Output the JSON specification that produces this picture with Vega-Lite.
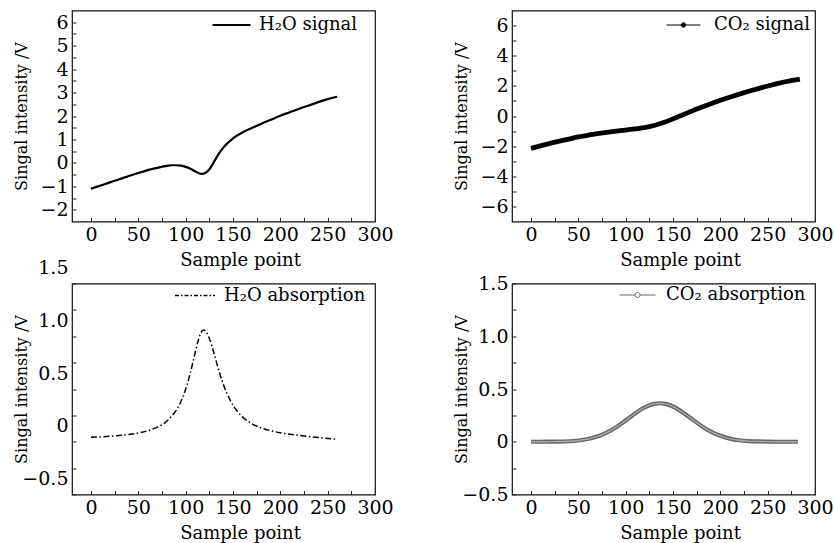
{
  "$schema": "https://vega.github.io/schema/vega-lite/v6.json",
  "background": "white",
  "padding": {"left": 12, "top": 3.5, "right": 0, "bottom": 0},
  "columns": 2,
  "spacing": {"row": 62, "column": 137},
  "bounds": "flush",
  "resolve": {"scale": {"color": "independent"}, "legend": {"color": "independent"}},
  "datasets": {
    "h2o_sig": [
      {"x": 0, "y": -1.10, "series": "H₂O signal"}, {"x": 10, "y": -0.97, "series": "H₂O signal"}, {"x": 20, "y": -0.83, "series": "H₂O signal"}, {"x": 30, "y": -0.70, "series": "H₂O signal"}, {"x": 40, "y": -0.56, "series": "H₂O signal"}, {"x": 50, "y": -0.43, "series": "H₂O signal"}, {"x": 60, "y": -0.31, "series": "H₂O signal"}, {"x": 70, "y": -0.21, "series": "H₂O signal"}, {"x": 80, "y": -0.13, "series": "H₂O signal"}, {"x": 85, "y": -0.10, "series": "H₂O signal"}, {"x": 90, "y": -0.10, "series": "H₂O signal"}, {"x": 95, "y": -0.12, "series": "H₂O signal"}, {"x": 100, "y": -0.17, "series": "H₂O signal"}, {"x": 105, "y": -0.25, "series": "H₂O signal"}, {"x": 110, "y": -0.36, "series": "H₂O signal"}, {"x": 114, "y": -0.44, "series": "H₂O signal"}, {"x": 117, "y": -0.47, "series": "H₂O signal"}, {"x": 120, "y": -0.44, "series": "H₂O signal"}, {"x": 123, "y": -0.36, "series": "H₂O signal"}, {"x": 126, "y": -0.22, "series": "H₂O signal"}, {"x": 130, "y": 0.05, "series": "H₂O signal"}, {"x": 135, "y": 0.38, "series": "H₂O signal"}, {"x": 140, "y": 0.66, "series": "H₂O signal"}, {"x": 145, "y": 0.87, "series": "H₂O signal"}, {"x": 150, "y": 1.05, "series": "H₂O signal"}, {"x": 160, "y": 1.30, "series": "H₂O signal"}, {"x": 170, "y": 1.49, "series": "H₂O signal"}, {"x": 180, "y": 1.67, "series": "H₂O signal"}, {"x": 190, "y": 1.84, "series": "H₂O signal"}, {"x": 200, "y": 2.01, "series": "H₂O signal"}, {"x": 210, "y": 2.16, "series": "H₂O signal"}, {"x": 220, "y": 2.31, "series": "H₂O signal"}, {"x": 230, "y": 2.45, "series": "H₂O signal"}, {"x": 240, "y": 2.59, "series": "H₂O signal"}, {"x": 250, "y": 2.72, "series": "H₂O signal"}, {"x": 260, "y": 2.82, "series": "H₂O signal"}
    ],
    "co2_sig": [
      {"x": 0, "y": -2.15, "series": "CO₂ signal"}, {"x": 10, "y": -1.98, "series": "CO₂ signal"}, {"x": 20, "y": -1.82, "series": "CO₂ signal"}, {"x": 30, "y": -1.67, "series": "CO₂ signal"}, {"x": 40, "y": -1.53, "series": "CO₂ signal"}, {"x": 50, "y": -1.39, "series": "CO₂ signal"}, {"x": 60, "y": -1.28, "series": "CO₂ signal"}, {"x": 70, "y": -1.17, "series": "CO₂ signal"}, {"x": 80, "y": -1.08, "series": "CO₂ signal"}, {"x": 90, "y": -1.00, "series": "CO₂ signal"}, {"x": 100, "y": -0.93, "series": "CO₂ signal"}, {"x": 110, "y": -0.86, "series": "CO₂ signal"}, {"x": 120, "y": -0.77, "series": "CO₂ signal"}, {"x": 130, "y": -0.63, "series": "CO₂ signal"}, {"x": 140, "y": -0.43, "series": "CO₂ signal"}, {"x": 150, "y": -0.19, "series": "CO₂ signal"}, {"x": 160, "y": 0.07, "series": "CO₂ signal"}, {"x": 170, "y": 0.33, "series": "CO₂ signal"}, {"x": 180, "y": 0.58, "series": "CO₂ signal"}, {"x": 190, "y": 0.81, "series": "CO₂ signal"}, {"x": 200, "y": 1.04, "series": "CO₂ signal"}, {"x": 210, "y": 1.25, "series": "CO₂ signal"}, {"x": 220, "y": 1.45, "series": "CO₂ signal"}, {"x": 230, "y": 1.64, "series": "CO₂ signal"}, {"x": 240, "y": 1.82, "series": "CO₂ signal"}, {"x": 250, "y": 1.99, "series": "CO₂ signal"}, {"x": 260, "y": 2.15, "series": "CO₂ signal"}, {"x": 270, "y": 2.29, "series": "CO₂ signal"}, {"x": 284, "y": 2.45, "series": "CO₂ signal"}
    ],
    "h2o_abs": [
      {"x": 0, "y": 0.042, "series": "H₂O absorption"}, {"x": 10, "y": 0.046, "series": "H₂O absorption"}, {"x": 20, "y": 0.052, "series": "H₂O absorption"}, {"x": 30, "y": 0.059, "series": "H₂O absorption"}, {"x": 40, "y": 0.069, "series": "H₂O absorption"}, {"x": 50, "y": 0.083, "series": "H₂O absorption"}, {"x": 60, "y": 0.104, "series": "H₂O absorption"}, {"x": 70, "y": 0.138, "series": "H₂O absorption"}, {"x": 80, "y": 0.194, "series": "H₂O absorption"}, {"x": 85, "y": 0.238, "series": "H₂O absorption"}, {"x": 90, "y": 0.297, "series": "H₂O absorption"}, {"x": 95, "y": 0.381, "series": "H₂O absorption"}, {"x": 100, "y": 0.497, "series": "H₂O absorption"}, {"x": 105, "y": 0.654, "series": "H₂O absorption"}, {"x": 110, "y": 0.843, "series": "H₂O absorption"}, {"x": 113, "y": 0.951, "series": "H₂O absorption"}, {"x": 116, "y": 1.031, "series": "H₂O absorption"}, {"x": 119, "y": 1.06, "series": "H₂O absorption"}, {"x": 122, "y": 1.039, "series": "H₂O absorption"}, {"x": 125, "y": 0.981, "series": "H₂O absorption"}, {"x": 130, "y": 0.836, "series": "H₂O absorption"}, {"x": 135, "y": 0.678, "series": "H₂O absorption"}, {"x": 140, "y": 0.54, "series": "H₂O absorption"}, {"x": 145, "y": 0.431, "series": "H₂O absorption"}, {"x": 150, "y": 0.347, "series": "H₂O absorption"}, {"x": 155, "y": 0.284, "series": "H₂O absorption"}, {"x": 160, "y": 0.236, "series": "H₂O absorption"}, {"x": 170, "y": 0.171, "series": "H₂O absorption"}, {"x": 180, "y": 0.130, "series": "H₂O absorption"}, {"x": 190, "y": 0.104, "series": "H₂O absorption"}, {"x": 200, "y": 0.085, "series": "H₂O absorption"}, {"x": 210, "y": 0.071, "series": "H₂O absorption"}, {"x": 220, "y": 0.060, "series": "H₂O absorption"}, {"x": 230, "y": 0.050, "series": "H₂O absorption"}, {"x": 240, "y": 0.040, "series": "H₂O absorption"}, {"x": 250, "y": 0.031, "series": "H₂O absorption"}, {"x": 260, "y": 0.024, "series": "H₂O absorption"}
    ],
    "co2_abs": [
      {"x": 0, "y": 0, "series": "CO₂ absorption"}, {"x": 10, "y": 0, "series": "CO₂ absorption"}, {"x": 20, "y": 0.001, "series": "CO₂ absorption"}, {"x": 30, "y": 0.002, "series": "CO₂ absorption"}, {"x": 40, "y": 0.005, "series": "CO₂ absorption"}, {"x": 50, "y": 0.012, "series": "CO₂ absorption"}, {"x": 60, "y": 0.026, "series": "CO₂ absorption"}, {"x": 70, "y": 0.049, "series": "CO₂ absorption"}, {"x": 80, "y": 0.087, "series": "CO₂ absorption"}, {"x": 90, "y": 0.138, "series": "CO₂ absorption"}, {"x": 100, "y": 0.201, "series": "CO₂ absorption"}, {"x": 110, "y": 0.268, "series": "CO₂ absorption"}, {"x": 120, "y": 0.325, "series": "CO₂ absorption"}, {"x": 130, "y": 0.359, "series": "CO₂ absorption"}, {"x": 136, "y": 0.365, "series": "CO₂ absorption"}, {"x": 142, "y": 0.359, "series": "CO₂ absorption"}, {"x": 150, "y": 0.334, "series": "CO₂ absorption"}, {"x": 160, "y": 0.280, "series": "CO₂ absorption"}, {"x": 170, "y": 0.215, "series": "CO₂ absorption"}, {"x": 180, "y": 0.150, "series": "CO₂ absorption"}, {"x": 190, "y": 0.096, "series": "CO₂ absorption"}, {"x": 200, "y": 0.056, "series": "CO₂ absorption"}, {"x": 210, "y": 0.030, "series": "CO₂ absorption"}, {"x": 220, "y": 0.014, "series": "CO₂ absorption"}, {"x": 230, "y": 0.006, "series": "CO₂ absorption"}, {"x": 240, "y": 0.003, "series": "CO₂ absorption"}, {"x": 250, "y": 0.001, "series": "CO₂ absorption"}, {"x": 260, "y": 0, "series": "CO₂ absorption"}, {"x": 270, "y": 0, "series": "CO₂ absorption"}, {"x": 282, "y": 0, "series": "CO₂ absorption"}
    ]
  },
  "concat": [
    {
      "width": 303, "height": 211,
      "data": {"name": "h2o_sig"},
      "mark": {"type": "line", "strokeWidth": 2.2, "interpolate": "monotone"},
      "encoding": {
        "x": {"field": "x", "type": "quantitative", "scale": {"domain": [-20, 300], "nice": false, "zero": false},
              "axis": {"title": "Sample point", "values": [0,25,50,75,100,125,150,175,200,225,250,275,300],
                       "labelExpr": "datum.value % 50 === 0 ? format(datum.value, 'd') : ''"}},
        "y": {"field": "y", "type": "quantitative", "scale": {"domain": [-2.5, 6.5], "nice": false, "zero": false},
              "axis": {"title": "Singal intensity /V", "values": [-2,-1.5,-1,-0.5,0,0.5,1,1.5,2,2.5,3,3.5,4,4.5,5,5.5,6],
                       "labelExpr": "datum.value % 1 === 0 ? format(datum.value, 'd') : ''"}},
        "color": {"field": "series", "type": "nominal", "scale": {"range": ["#000000"]},
                  "legend": {"title": null, "orient": "none", "legendX": 139, "legendY": -6, "symbolType": "stroke", "symbolSize": 1444, "symbolStrokeWidth": 2.2, "labelOffset": 7}}
      }
    },
    {
      "width": 303, "height": 211,
      "data": {"name": "co2_sig"},
      "mark": {"type": "line", "strokeWidth": 4.8, "interpolate": "monotone"},
      "encoding": {
        "x": {"field": "x", "type": "quantitative", "scale": {"domain": [-20, 300], "nice": false, "zero": false},
              "axis": {"title": "Sample point", "values": [0,25,50,75,100,125,150,175,200,225,250,275,300],
                       "labelExpr": "datum.value % 50 === 0 ? format(datum.value, 'd') : ''"}},
        "y": {"field": "y", "type": "quantitative", "scale": {"domain": [-7, 7], "nice": false, "zero": false},
              "axis": {"title": "Singal intensity /V", "values": [-6,-5,-4,-3,-2,-1,0,1,2,3,4,5,6],
                       "labelExpr": "datum.value % 2 === 0 ? format(datum.value, 'd') : ''"}},
        "color": {"field": "series", "type": "nominal", "scale": {"range": ["#000000"]},
                  "legend": {"title": null, "orient": "none", "legendX": 154, "legendY": -3, "symbolType": "M-1,0H1M0.13,0A0.13,0.13 0 1,1 -0.13,0A0.13,0.13 0 1,1 0.13,0", "symbolSize": 1156, "symbolStrokeWidth": 1, "symbolFillColor": "#000000", "labelOffset": 13,
                             "encode": {"symbols": {"update": {"fill": {"value": "#000000"}, "strokeWidth": {"value": 1}}}}}}
      }
    },
    {
      "width": 303, "height": 211,
      "data": {"name": "h2o_abs"},
      "mark": {"type": "line", "strokeWidth": 1.5, "interpolate": "monotone", "strokeDash": [6, 2.5, 1.5, 2.5]},
      "encoding": {
        "x": {"field": "x", "type": "quantitative", "scale": {"domain": [-20, 300], "nice": false, "zero": false},
              "axis": {"title": "Sample point", "values": [0,25,50,75,100,125,150,175,200,225,250,275,300],
                       "labelExpr": "datum.value % 50 === 0 ? format(datum.value, 'd') : ''"}},
        "y": {"field": "y", "type": "quantitative", "scale": {"domain": [-0.5, 1.5], "nice": false, "zero": false},
              "axis": {"title": "Singal intensity /V", "values": [-0.5,-0.25,0,0.25,0.5,0.75,1,1.25,1.5], "labelOffset": -16,
                       "labelExpr": "datum.value % 0.5 !== 0 ? '' : (datum.value === 0 ? '0' : format(datum.value, '.1f'))"}},
        "color": {"field": "series", "type": "nominal", "scale": {"range": ["#000000"]},
                  "legend": {"title": null, "orient": "none", "legendX": 102, "legendY": -9, "symbolType": "stroke", "symbolSize": 1600, "symbolStrokeWidth": 1.5, "symbolDash": [4, 2, 1.5, 2], "labelOffset": 8}}
      }
    },
    {
      "width": 303, "height": 211,
      "data": {"name": "co2_abs"},
      "encoding": {
        "x": {"field": "x", "type": "quantitative", "scale": {"domain": [-20, 300], "nice": false, "zero": false},
              "axis": {"title": "Sample point", "values": [0,25,50,75,100,125,150,175,200,225,250,275,300],
                       "labelExpr": "datum.value % 50 === 0 ? format(datum.value, 'd') : ''"}},
        "y": {"field": "y", "type": "quantitative", "scale": {"domain": [-0.5, 1.5], "nice": false, "zero": false},
              "axis": {"title": "Singal intensity /V", "values": [-0.5,-0.25,0,0.25,0.5,0.75,1,1.25,1.5],
                       "labelExpr": "datum.value % 0.5 !== 0 ? '' : (datum.value === 0 ? '0' : format(datum.value, '.1f'))"}}
      },
      "layer": [
        {
          "mark": {"type": "line", "strokeWidth": 4.2, "interpolate": "monotone"},
          "encoding": {
            "color": {"field": "series", "type": "nominal", "scale": {"range": ["#666666"]},
                      "legend": {"title": null, "orient": "none", "legendX": 107, "legendY": -7, "symbolType": "M-1,0H-0.14M0.14,0H1M0.14,0A0.14,0.14 0 1,1 -0.14,0A0.14,0.14 0 1,1 0.14,0", "symbolSize": 1296, "symbolStrokeWidth": 1, "labelOffset": 10,
                                 "encode": {"symbols": {"update": {"fill": {"value": "#ffffff"}, "stroke": {"value": "#444444"}, "strokeWidth": {"value": 1}}}}}}
          }
        },
        {
          "mark": {"type": "line", "strokeWidth": 1.4, "color": "#a9a9a9", "interpolate": "monotone"}
        }
      ]
    }
  ],
  "config": {
    "font": "DejaVu Serif",
    "view": {"stroke": "#111111", "strokeWidth": 1.2},
    "axis": {
      "domain": false, "grid": false,
      "labelFont": "DejaVu Serif", "labelFontSize": 19, "labelColor": "#000000",
      "titleFont": "DejaVu Serif", "titleFontWeight": "normal", "titleColor": "#000000",
      "tickColor": "#222222", "tickSize": -4, "tickWidth": 1,
      "labelPadding": 8, "labelFlush": false, "labelOverlap": false, "labelBound": false
    },
    "axisX": {"titleFontSize": 18, "titleX": 168, "titleY": 44, "titleBaseline": "alphabetic"},
    "axisY": {"titleFontSize": 16, "titleX": -51, "titleBaseline": "middle"},
    "legend": {"labelFont": "DejaVu Serif", "labelFontSize": 18, "labelColor": "#000000", "padding": 0, "rowPadding": 0, "labelLimit": 300}
  }
}
